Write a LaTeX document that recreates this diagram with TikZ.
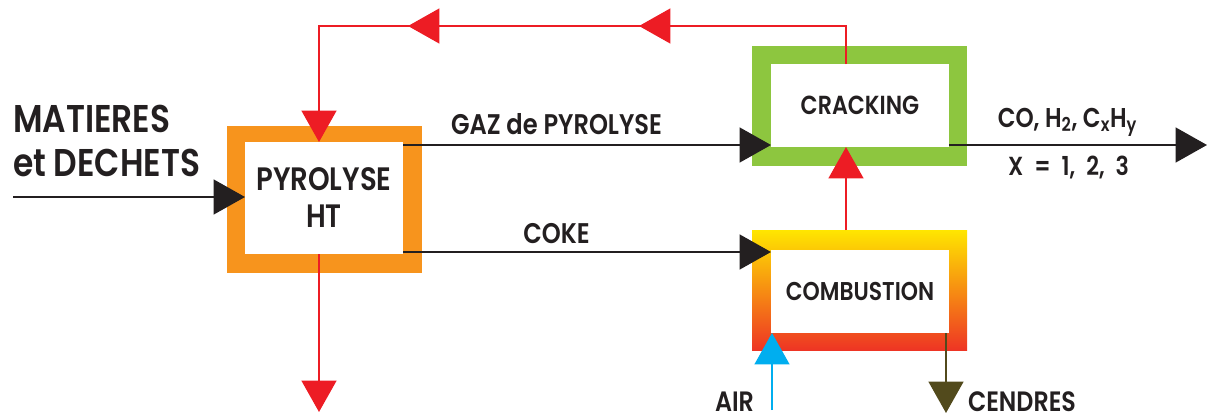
\documentclass[tikz,border=0pt]{standalone}
\usepackage{fontspec}
\setmainfont{Poppins}[FakeStretch=0.85, UprightFont=* SemiBold, BoldFont=* Bold]
\usetikzlibrary{arrows.meta,decorations.markings,calc}
\definecolor{txt}{HTML}{231F20}
\definecolor{corange}{HTML}{F7941D}
\definecolor{cgreen}{HTML}{8DC63F}
\definecolor{cred}{HTML}{ED1C24}
\definecolor{ccyan}{HTML}{00AEEF}
\definecolor{cbrown}{HTML}{524A1C}
\definecolor{cyellow}{HTML}{FFE600}
\definecolor{cbot}{HTML}{EE3524}
\newcommand\fBig{\fontsize{29pt}{33pt}\selectfont}
\newcommand\fPyro{\fontsize{24.3pt}{27.75pt}\selectfont}
\newcommand\fGaz{\fontsize{21.3pt}{24pt}\selectfont}
\newcommand\fBox{\fontsize{19.6pt}{23pt}\selectfont}
\newcommand\fComb{\fontsize{19.3pt}{22pt}\selectfont}
\newcommand\fCo{\fontsize{20.4pt}{24pt}\selectfont}
\newcommand\fXr{\fontsize{19.6pt}{24pt}\selectfont\spaceskip=0.42em\relax}
\newcommand\fAir{\fontsize{21pt}{25pt}\selectfont}
\tikzset{
  tri/.tip={Triangle[length=23.5pt,width=26pt]},
  frame/.style={rectangle, inner sep=0pt, outer sep=0pt, draw=none},
  inbox/.style={rectangle, fill=white, inner sep=0pt, outer sep=0pt, text=txt, align=center},
  lab/.style={inner sep=0pt, outer sep=0pt, text=txt},
  conn/.style={line width=1.8pt},
  blk/.style={conn, draw=txt, -tri},
  redarr/.style={conn, draw=cred, color=cred, -tri},
  cyanarr/.style={conn, draw=ccyan, color=ccyan, -tri},
  brnarr/.style={conn, draw=cbrown, color=cbrown, -tri},
  fbmarks/.style={postaction={decorate, decoration={markings,
      mark=at position 183.75pt with {\arrow{tri}},
      mark=at position 357pt with {\arrow{tri}}}}}
}
\begin{document}
\begin{tikzpicture}[x=0.75pt,y=-0.75pt]
\useasboundingbox (0,0) rectangle (1215,414);
% frames
\node[frame, fill=corange, minimum width=146.25pt, minimum height=110.25pt] (pyroF) at (324.5,199.5) {};
\node[frame, fill=cgreen, minimum width=161.25pt, minimum height=90pt] (crackF) at (859.5,106) {};
\node[frame, top color=cyellow, middle color=corange, bottom color=cbot, minimum width=161.25pt, minimum height=90pt] (combF) at (859.5,290) {};
% inner boxes
\node[inbox, font=\fPyro, minimum width=118.5pt, minimum height=84pt] (pyro) at (324,198) {PYROLYSE\\HT};
\node[inbox, font=\fBox, minimum width=133.5pt, minimum height=62.25pt] (crack) at (860,105.5) {CRACKING};
\node[inbox, font=\fComb, minimum width=133.5pt, minimum height=62.25pt] (comb) at (860,291.5) {COMBUSTION};
% free ends
\coordinate (inL) at (13,197);
\coordinate (outR) at (1207,145);
\coordinate (pyroOut) at (319,412);
\coordinate (airIn) at (772,410);
\coordinate (cendOut) at (946,413);
% connectors
\draw[blk] (inL) -- (pyro.west |- inL);
\draw[blk] (pyro.east |- 0,145) -- (crack.west |- 0,145);
\draw[blk] (pyro.east |- 0,252) -- (comb.west |- 0,252);
\draw[blk] (crack.east |- 0,145) -- (outR);
\draw[redarr, fbmarks] (846,0 |- crack.north) -- (846,26) -- (319,26) -- (319,0 |- pyro.north);
\draw[redarr] (846,0 |- combF.north) -- (846,0 |- crack.south);
\draw[redarr] (319,0 |- pyro.south) -- (pyroOut);
\draw[cyanarr] (airIn) -- (772,0 |- comb.south);
\draw[brnarr] (946,0 |- comb.south) -- (cendOut);
% labels
\node[lab, font=\fBig, anchor=base west] (l1) at (13,132) {MATIERES};
\node[lab, font=\fBig, anchor=base west] (l2) at (13,176) {et DECHETS};
\node[lab, font=\fGaz, anchor=base] (gaz) at (556.5,134) {GAZ de PYROLYSE};
\node[lab, font=\fGaz, anchor=base] (coke) at (556.5,243) {COKE};
\node[lab, font=\fCo, anchor=base] (co) at (1067.5,127) {CO, H\textsubscript{2}, C\textsubscript{x}H\textsubscript{y}};
\node[lab, font=\fXr, anchor=base] (xx) at (1068.5,175) {X = 1, 2, 3};
\node[lab, font=\fAir, anchor=base east] (air) at (754,411.5) {AIR};
\node[lab, font=\fAir, anchor=base west] (cend) at (968,411.5) {CENDRES};
\end{tikzpicture}
\end{document}
